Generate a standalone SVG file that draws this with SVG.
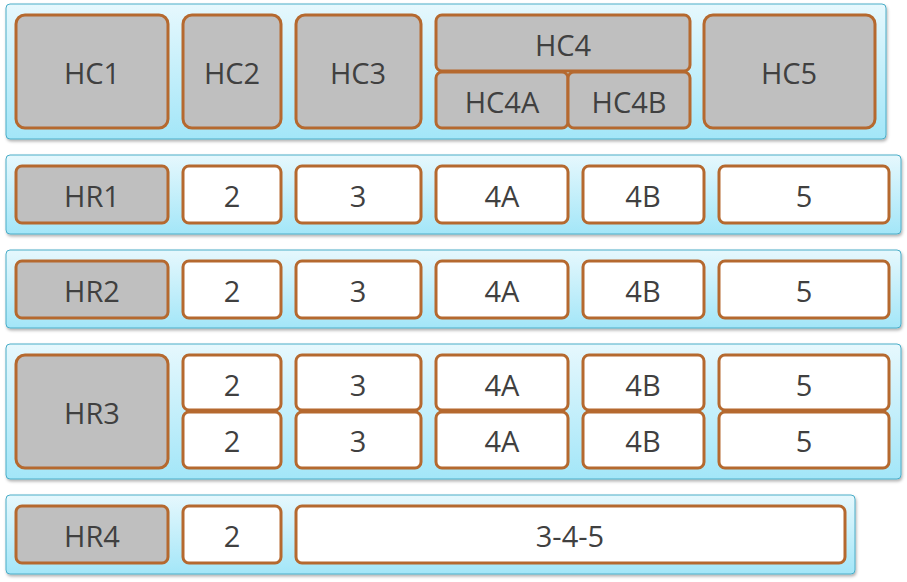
<svg xmlns="http://www.w3.org/2000/svg" width="907" height="582" viewBox="0 0 907 582">
<defs>
<linearGradient id="bg" x1="0" y1="0" x2="0" y2="1"><stop offset="0" stop-color="#e6f8fd"/><stop offset="1" stop-color="#a3e6f8"/></linearGradient>
<filter id="sh" x="-5%" y="-5%" width="110%" height="120%"><feDropShadow dx="1" dy="2" stdDeviation="1.5" flood-color="#000" flood-opacity="0.3"/></filter>
</defs>
<style>
.band{fill:url(#bg);stroke:#4aadc8;stroke-width:1;filter:url(#sh)}
.h{fill:#bfbfbf;stroke:#b5692f;stroke-width:3}
.c{fill:#fff;stroke:#b5692f;stroke-width:3}
text{font-family:"Open Sans","Liberation Sans",sans-serif;font-size:29px;fill:#404040;text-anchor:middle;dominant-baseline:central}
</style>
<rect class="band" x="6" y="4" width="880" height="135" rx="4"/>
<rect class="band" x="6" y="155" width="895" height="79" rx="4"/>
<rect class="band" x="6" y="250" width="895" height="78" rx="4"/>
<rect class="band" x="6" y="344" width="895" height="135" rx="4"/>
<rect class="band" x="6" y="495" width="849" height="79" rx="4"/>
<g id="HC1"><rect class="h" x="16" y="15" width="152" height="113" rx="9"/><text x="92" y="72">HC1</text></g>
<g id="HC2"><rect class="h" x="183" y="15" width="98" height="113" rx="9"/><text x="232" y="72">HC2</text></g>
<g id="HC3"><rect class="h" x="296" y="15" width="125" height="113" rx="9"/><text x="358" y="72">HC3</text></g>
<g id="HC4"><rect class="h" x="436" y="15" width="254" height="56" rx="6"/><text x="563" y="44">HC4</text></g>
<g id="HC4A"><rect class="h" x="436" y="72" width="132" height="56" rx="6"/><text x="502" y="101">HC4A</text></g>
<g id="HC4B"><rect class="h" x="568" y="72" width="122" height="56" rx="6"/><text x="629" y="101">HC4B</text></g>
<g id="HC5"><rect class="h" x="704" y="15" width="171" height="113" rx="9"/><text x="789" y="72">HC5</text></g>
<g id="HR1"><rect class="h" x="16" y="166" width="152" height="57" rx="6"/><text x="92" y="195">HR1</text>
<rect class="c" x="183" y="166" width="98" height="57" rx="6"/><text x="232" y="195">2</text>
<rect class="c" x="296" y="166" width="125" height="57" rx="6"/><text x="358" y="195">3</text>
<rect class="c" x="436" y="166" width="132" height="57" rx="6"/><text x="502" y="195">4A</text>
<rect class="c" x="583" y="166" width="121" height="57" rx="6"/><text x="643" y="195">4B</text>
<rect class="c" x="719" y="166" width="170" height="57" rx="6"/><text x="804" y="195">5</text></g>
<g id="HR2"><rect class="h" x="16" y="261" width="152" height="57" rx="6"/><text x="92" y="290">HR2</text>
<rect class="c" x="183" y="261" width="98" height="57" rx="6"/><text x="232" y="290">2</text>
<rect class="c" x="296" y="261" width="125" height="57" rx="6"/><text x="358" y="290">3</text>
<rect class="c" x="436" y="261" width="132" height="57" rx="6"/><text x="502" y="290">4A</text>
<rect class="c" x="583" y="261" width="121" height="57" rx="6"/><text x="643" y="290">4B</text>
<rect class="c" x="719" y="261" width="170" height="57" rx="6"/><text x="804" y="290">5</text></g>
<g id="HR3"><rect class="h" x="16" y="355" width="152" height="113" rx="9"/><text x="92" y="412">HR3</text>
<rect class="c" x="183" y="355" width="98" height="55" rx="6"/><text x="232" y="384">2</text>
<rect class="c" x="296" y="355" width="125" height="55" rx="6"/><text x="358" y="384">3</text>
<rect class="c" x="436" y="355" width="132" height="55" rx="6"/><text x="502" y="384">4A</text>
<rect class="c" x="583" y="355" width="121" height="55" rx="6"/><text x="643" y="384">4B</text>
<rect class="c" x="719" y="355" width="170" height="55" rx="6"/><text x="804" y="384">5</text>
<rect class="c" x="183" y="412" width="98" height="56" rx="6"/><text x="232" y="440">2</text>
<rect class="c" x="296" y="412" width="125" height="56" rx="6"/><text x="358" y="440">3</text>
<rect class="c" x="436" y="412" width="132" height="56" rx="6"/><text x="502" y="440">4A</text>
<rect class="c" x="583" y="412" width="121" height="56" rx="6"/><text x="643" y="440">4B</text>
<rect class="c" x="719" y="412" width="170" height="56" rx="6"/><text x="804" y="440">5</text></g>
<g id="HR4"><rect class="h" x="16" y="506" width="152" height="57" rx="6"/><text x="92" y="535">HR4</text>
<rect class="c" x="183" y="506" width="98" height="57" rx="6"/><text x="232" y="535">2</text>
<rect class="c" x="296" y="506" width="549" height="57" rx="6"/><text x="570" y="535">3-4-5</text></g>
<g id="connectors"/>
</svg>
